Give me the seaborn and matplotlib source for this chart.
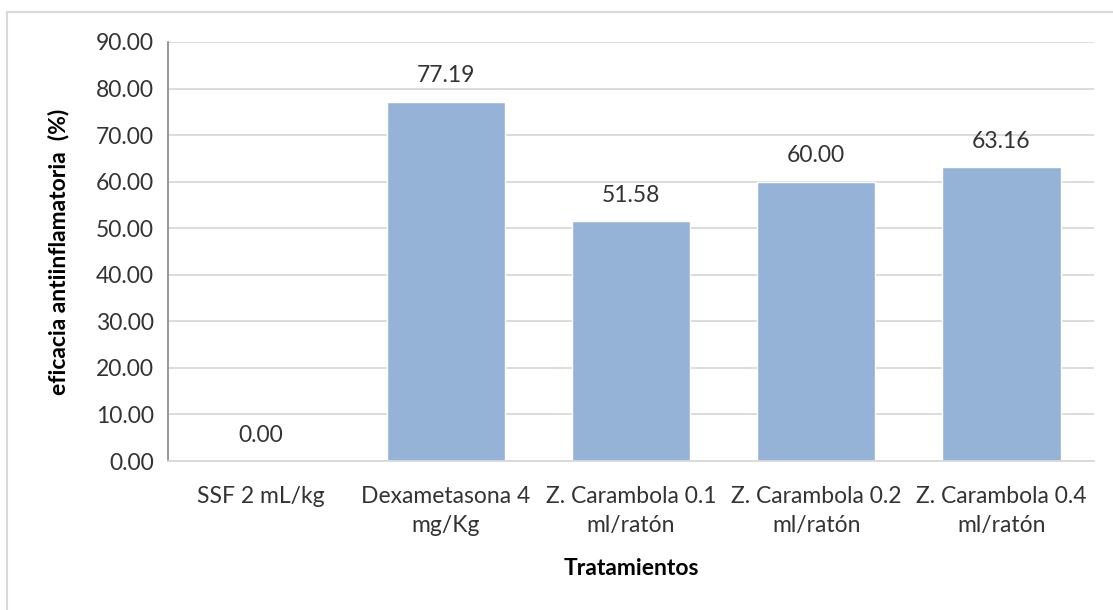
import matplotlib
matplotlib.use("Agg")
import matplotlib.pyplot as plt
import seaborn as sns
import pandas as pd
from matplotlib.lines import Line2D

categories = ["SSF 2 mL/kg", "Dexametasona 4\nmg/Kg", "Z. Carambola 0.1\nml/ratón",
              "Z. Carambola 0.2\nml/ratón", "Z. Carambola 0.4\nml/ratón"]
values = [0.00, 77.19, 51.58, 60.00, 63.16]
yticks = [0, 10, 20, 30, 40, 50, 60, 70, 80, 90]

sns.set_theme(style="white")
plt.rcParams['font.family'] = ['Lato', 'DejaVu Sans']

FS = 16.5
W, H = 1113, 610
fig = plt.figure(figsize=(W / 100, H / 100), dpi=100)
ax = fig.add_axes([168 / W, 1 - 461 / H, (1094 - 168) / W, (461 - 42) / H])

df = pd.DataFrame({"cat": categories, "val": values})
sns.barplot(data=df, x="cat", y="val", color="#95B3D7", saturation=1, width=0.64, ax=ax)

ax.set_ylim(0, 90)
ax.set_xlim(-0.5, len(categories) - 0.5)
ax.set_yticks(yticks)
ax.set_yticklabels([f"{v:.2f}" for v in yticks], fontsize=FS, color="#333333")
ax.tick_params(axis="x", labelsize=FS, labelcolor="#333333", length=0, pad=18)
ax.tick_params(axis="y", length=0, pad=10)
for lab in ax.get_xticklabels():
    lab.set_horizontalalignment("center")
    lab.set_linespacing(1.45)
    lab.set_verticalalignment("top")

ax.grid(axis="y", color="#D9D9D9", linewidth=1.3)
ax.set_axisbelow(True)
for s in ["top", "right"]:
    ax.spines[s].set_visible(False)
ax.spines["left"].set_color("#868686")
ax.spines["left"].set_linewidth(1.2)
ax.spines["bottom"].set_color("#D9D9D9")
ax.spines["bottom"].set_linewidth(1.3)

for i, v in enumerate(values):
    ax.text(i, v + 3.3, f"{v:.2f}", ha="center", va="bottom", fontsize=FS, color="#333333")

ax.set_xlabel("Tratamientos", fontsize=FS, fontweight="bold", color="#000000", labelpad=16)
ax.set_ylabel("eficacia antiinflamatoria  (%)", fontsize=FS, fontweight="bold", color="#000000", labelpad=19)

# chart-area border (left and top edges visible)
fig.add_artist(Line2D([7 / W, 7 / W], [0, 1 - 12 / H], transform=fig.transFigure, color="#D9D9D9", lw=1.5))
fig.add_artist(Line2D([7 / W, 1], [1 - 12 / H, 1 - 12 / H], transform=fig.transFigure, color="#D9D9D9", lw=1.5))

fig.savefig("out.png", dpi=100, facecolor="white")
